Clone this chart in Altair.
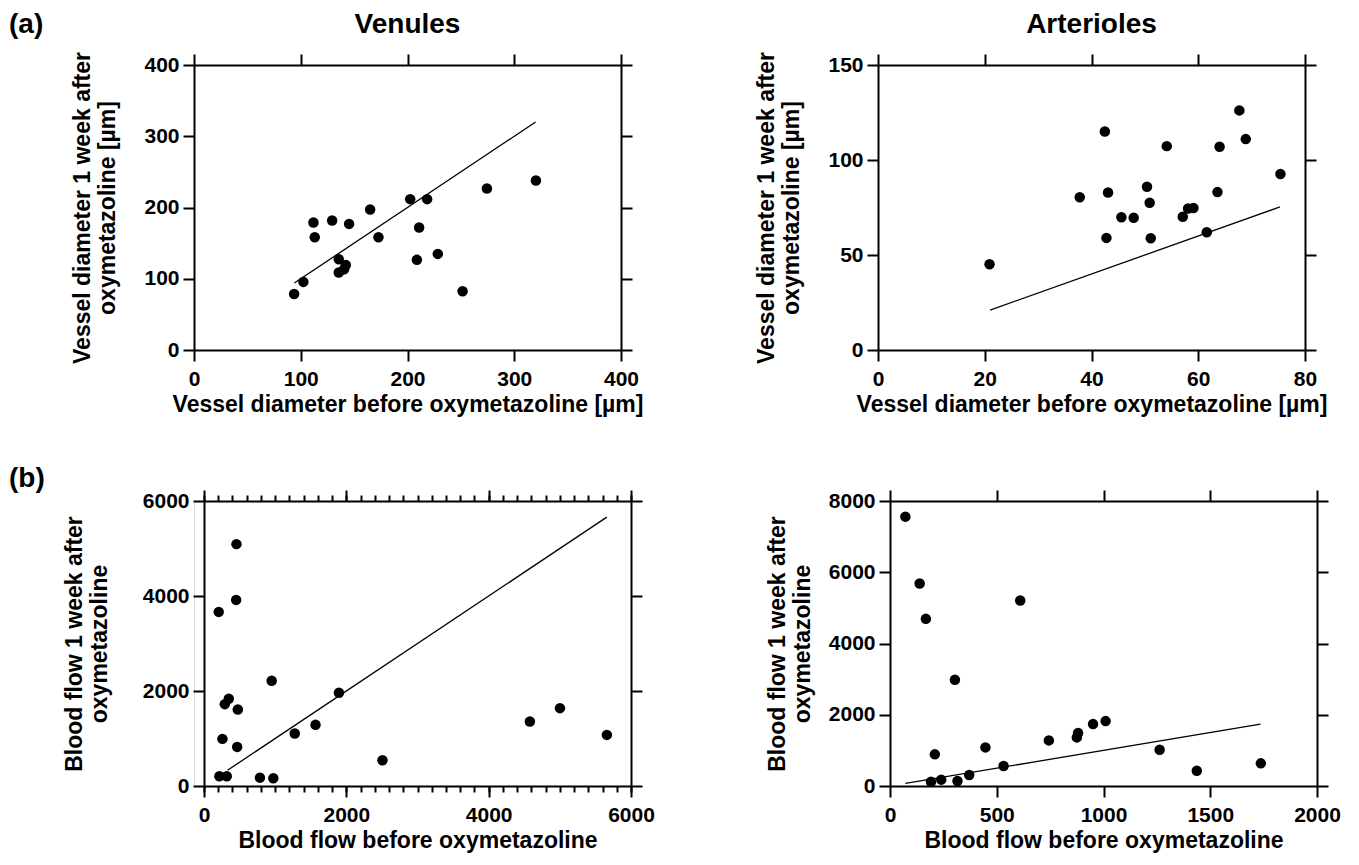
import altair as alt
import pandas as pd

FONT = "Liberation Sans"

# ---------------- data ----------------
# (a) Venules: vessel diameter [µm]
ven_d_before = [93.8, 102.5, 111.9, 113.1, 129.4, 145.3, 135.6, 135.6, 140.6, 142.2,
                165.0, 172.8, 202.5, 218.4, 210.9, 208.8, 228.4, 251.6, 274.4, 320.3]
ven_d_after = [78.7, 95.6, 178.9, 158.3, 181.7, 177.0, 127.4, 108.7, 113.3, 119.4,
               197.2, 158.3, 211.7, 211.7, 171.9, 126.5, 134.9, 82.4, 226.7, 237.9]
ven_d_line_x = [94, 320]
ven_d_line_y = [94, 320]

# (a) Arterioles: vessel diameter [µm]
art_d_before = [20.9, 37.8, 42.5, 43.1, 42.8, 45.6, 47.9, 50.4, 50.9, 51.1,
                54.1, 57.1, 58.1, 59.1, 61.6, 63.6, 64.0, 67.7, 68.9, 75.4]
art_d_after = [45.1, 80.4, 115.0, 82.9, 59.0, 69.9, 69.6, 85.9, 77.5, 58.8,
               107.3, 70.1, 74.5, 74.7, 62.0, 83.1, 107.0, 126.1, 111.0, 92.6]
art_d_line_x = [21, 75.3]
art_d_line_y = [21, 75.3]

# (b) Venules: blood flow
ven_f_before = [207, 456, 452, 951, 292, 348, 475, 259, 466, 216,
                320, 786, 974, 1275, 1567, 1896, 2508, 4579, 5002, 5661]
ven_f_after = [3665, 5092, 3918, 2216, 1723, 1836, 1611, 992, 823, 204,
               204, 176, 162, 1104, 1287, 1962, 542, 1358, 1639, 1076]
ven_f_line_x = [330, 5660]
ven_f_line_y = [330, 5660]

# (b) Arterioles: blood flow
art_f_before = [72, 139, 168, 610, 304, 210, 192, 240, 316, 371,
                447, 532, 744, 875, 881, 951, 1010, 1263, 1437, 1737]
art_f_after = [7561, 5682, 4692, 5206, 2981, 888, 121, 178, 140, 308,
               1084, 561, 1280, 1364, 1486, 1738, 1822, 1019, 430, 636]
art_f_line_x = [72, 1735]
art_f_line_y = [72, 1735]

# ticks
ven_d_ticks = [0, 100, 200, 300, 400]
art_d_xticks = [0, 20, 40, 60, 80]
art_d_yticks = [0, 50, 100, 150]
ven_f_ticks = [0, 2000, 4000, 6000]
ven_f_minor = list(range(0, 6001, 200))
art_f_xticks = [0, 500, 1000, 1500, 2000]
art_f_yticks = [0, 2000, 4000, 6000, 8000]

W, H = 427, 285

AX = dict(grid=False, domainColor="black", domainWidth=2, tickColor="black",
          tickWidth=2, tickSize=11, labelFont=FONT, labelFontSize=21,
          labelFontWeight="bold", labelColor="black", titleFont=FONT,
          titleFontSize=23, titleFontWeight="bold", titleColor="black",
          labelFlush=False, labelOverlap=False, format="d")


def text_layer(txt, x, y, align):
    return alt.Chart(pd.DataFrame({"t": [txt]})).mark_text(
        font=FONT, fontSize=28, fontWeight="bold", color="black",
        align=align, baseline="middle"
    ).encode(text="t:N", x=alt.value(x), y=alt.value(y))


def panel(px, py, lx, ly, xdom, ydom, xvals, yvals, xtitle, ytitle,
          minor=None, title=None, tag=None, tag_xy=(0, 0), shift=0, ytpad=24):
    pts = pd.DataFrame({"x": px, "y": py})
    ln = pd.DataFrame({"x": lx, "y": ly})
    if shift:
        xs = alt.Scale(domain=xdom, nice=False, zero=False, range=[shift, W + shift])
    else:
        xs = alt.Scale(domain=xdom, nice=False, zero=False)
    ys = alt.Scale(domain=ydom, nice=False, zero=False)

    points = alt.Chart(pts).mark_circle(size=110, color="black", opacity=1).encode(
        x=alt.X("x:Q", scale=xs,
                axis=alt.Axis(orient="bottom", values=xvals, title=xtitle,
                              labelPadding=7, titlePadding=4, **AX)),
        y=alt.Y("y:Q", scale=ys,
                axis=alt.Axis(orient="left", values=yvals, title=ytitle,
                              labelPadding=4, titlePadding=ytpad, offset=-shift,
                              titleLineHeight=25, **AX)),
    )
    line = alt.Chart(ln).mark_line(color="black", strokeWidth=1.3).encode(
        x=alt.X("x:Q", scale=xs,
                axis=alt.Axis(orient="top", values=xvals, labels=False, title="", **AX)),
        y=alt.Y("y:Q", scale=ys,
                axis=alt.Axis(orient="right", values=yvals, labels=False, title="", **AX)),
    )
    layers = [points, line]
    if minor is not None:
        for orient in ["bottom", "top"]:
            mx = dict(AX)
            mx.update(tickSize=6)
            layers.append(
                alt.Chart(ln).mark_line(strokeOpacity=0).encode(
                    x=alt.X("x:Q", scale=xs,
                            axis=alt.Axis(orient=orient, values=minor, labels=False,
                                          domain=False, title="", **mx)),
                    y=alt.Y("y:Q", scale=ys, axis=None),
                )
            )
    if tag is not None:
        layers.append(text_layer(tag, tag_xy[0], tag_xy[1], "left"))
    if title is not None:
        layers.append(text_layer(title, shift + W / 2, -40, "center"))
    ch = alt.layer(*layers).resolve_axis(x="independent", y="independent")
    return ch.properties(width=W + shift, height=H)


pA = panel(ven_d_before, ven_d_after, ven_d_line_x, ven_d_line_y, [0, 400], [0, 400],
           ven_d_ticks, ven_d_ticks, "Vessel diameter before oxymetazoline [µm]",
           ["Vessel diameter 1 week after", "oxymetazoline [µm]"],
           title="Venules", tag="(a)", tag_xy=(-185, -40))
pB = panel(art_d_before, art_d_after, art_d_line_x, art_d_line_y, [0, 80], [0, 150],
           art_d_xticks, art_d_yticks, "Vessel diameter before oxymetazoline [µm]",
           ["Vessel diameter 1 week after", "oxymetazoline [µm]"],
           title="Arterioles")
pC = panel(ven_f_before, ven_f_after, ven_f_line_x, ven_f_line_y, [0, 6000], [0, 6000],
           ven_f_ticks, ven_f_ticks, "Blood flow before oxymetazoline",
           ["Blood flow 1 week after", "oxymetazoline"],
           minor=ven_f_minor, tag="(b)", tag_xy=(-185, -22), shift=10, ytpad=31)
pD = panel(art_f_before, art_f_after, art_f_line_x, art_f_line_y, [0, 2000], [0, 8000],
           art_f_xticks, art_f_yticks, "Blood flow before oxymetazoline",
           ["Blood flow 1 week after", "oxymetazoline"], ytpad=14)

row1 = alt.hconcat(pA, pB, spacing=111)
row2 = alt.hconcat(pC, pD, spacing=110)

chart = alt.vconcat(row1, row2, spacing=47).properties(
    padding={"left": 0, "top": 2, "right": 0, "bottom": 0}
).configure_view(stroke=None).configure(background="white")

chart.save("out.html", embed_options={"renderer": "svg", "actions": False})
